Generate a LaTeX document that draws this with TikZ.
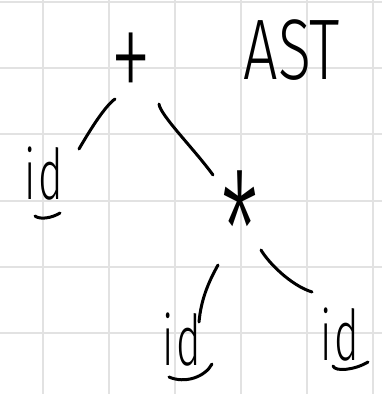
\documentclass[tikz,border=0pt]{standalone}
\usepackage{fontspec}
\setmainfont{Fira Sans Light}
\newfontfamily\thinfont{Fira Sans ExtraLight}
\usetikzlibrary{calc}
\definecolor{gridgray}{HTML}{E2E2E2}
\newcommand{\leafid}{\scalebox{0.6}[1]{i\kern4pt d}}
\begin{document}
\begin{tikzpicture}[x=1pt,y=-1pt,
  ink/.style={draw=black,line width=3pt,line cap=round,line join=round},
  txt/.style={inner sep=0pt,text=black},
  leaf/.style={txt,font=\fontsize{70}{70}\selectfont},
  gridline/.style={draw=gridgray,line width=2pt}]
  \useasboundingbox (0,0) rectangle (382,394);
  \fill[white] (0,0) rectangle (382,394);
  % squared paper
  \foreach \x in {43,109,175,241,307,373} \draw[gridline] (\x,0) -- (\x,394);
  \foreach \y in {2,68.2,134.4,200.6,266.8,333} \draw[gridline] (0,\y) -- (382,\y);

  % tree labels
  \node[txt,font=\thinfont\fontsize{120}{120}\selectfont] (plus) at (131,69) {\scalebox{0.7}[1.2]{+}};
  \node[txt,font=\fontsize{86}{86}\selectfont] (ast) at (292,50) {\scalebox{0.71}[1]{AST}};
  \node[leaf] (idl) at (44,174) {\leafid};
  \node[txt,font=\fontsize{100}{100}\selectfont] (star) at (240,230) {\scalebox{0.85}[1.6]{*}};
  \node[leaf] (idm) at (182,340) {\leafid};
  \node[leaf] (idr) at (340,335) {\leafid};

  % edges, hand-drawn between the labels
  \draw[ink] ($(plus)+(-16,30)$) .. controls ($(plus)+(-26,37)$) and ($(idl)+(46,-44)$) .. ($(idl)+(35,-25)$);
  \draw[ink] ($(plus)+(28,35)$) .. controls ($(plus)+(29,46)$) and ($(star)+(-45,-80)$) .. ($(star)+(-27,-55)$);
  \draw[ink] ($(star)+(-22,35)$) .. controls ($(star)+(-32,53)$) and ($(idm)+(19,-40)$) .. ($(idm)+(17,-18)$);
  \draw[ink] ($(star)+(21,20)$) .. controls ($(star)+(28,32)$) and ($(idr)+(-50,-50)$) .. ($(idr)+(-28,-43)$);

  % underlines under the leaves
  \draw[ink] ($(idl)+(-9,42)$) .. controls ($(idl)+(-4,46)$) and ($(idl)+(8,44)$) .. ($(idl)+(16,39)$);
  \draw[ink] ($(idm)+(-13,37)$) .. controls ($(idm)+(3,44)$) and ($(idm)+(23,37)$) .. ($(idm)+(30,24)$);
  \draw[ink] ($(idr)+(-7,31)$) .. controls ($(idr)+(-5,37)$) and ($(idr)+(15,35)$) .. ($(idr)+(28,27)$);
\end{tikzpicture}
\end{document}
